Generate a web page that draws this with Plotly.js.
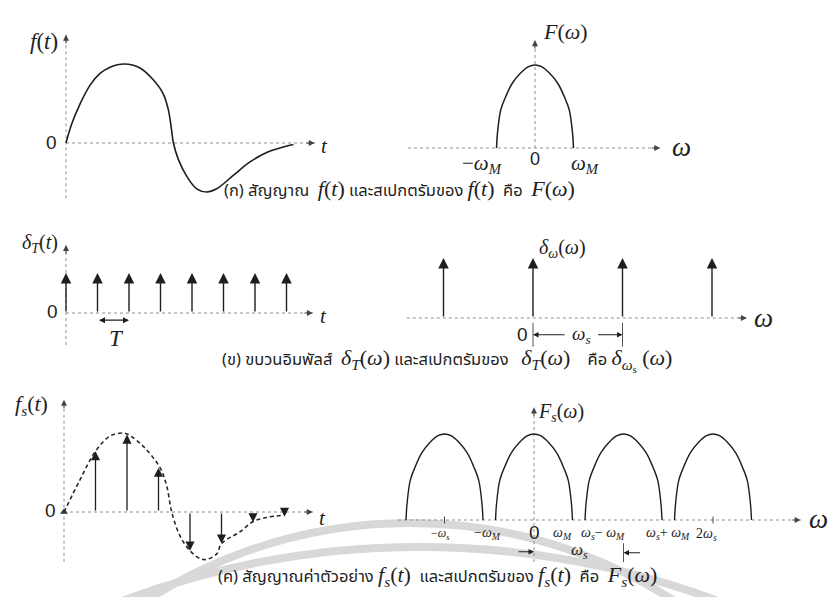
<!DOCTYPE html>
<html>
<head>
<meta charset="utf-8">
<script src="https://cdn.plot.ly/plotly-3.0.1.min.js"></script>
<style>
  html, body { margin: 0; padding: 0; background: #fff; }
  #chart { width: 834px; height: 597px; }
</style>
</head>
<body>
<div id="chart"></div>
<script>
// ---------- data ----------
// (a) continuous signal f(t); t in sampling periods T, amplitude relative to the peak
const fT = [0, 0.18, 0.44, 0.76, 1.08, 1.40, 1.85, 2.35, 2.77, 3.09, 3.25, 3.35, 3.41, 3.57, 3.83, 4.15, 4.47, 4.78, 5.31, 5.84, 6.37, 6.90, 7.22];
const fV = [0, 0.24, 0.49, 0.73, 0.88, 0.96, 1.00, 0.95, 0.80, 0.62, 0.42, 0.17, 0, -0.21, -0.42, -0.58, -0.62, -0.58, -0.41, -0.24, -0.12, -0.05, -0.02];

// band-limited spectrum F(ω): one lobe, offset in units of ωM and relative height
const lobeU = [-1, -0.975, -0.89, -0.76, -0.59, -0.38, -0.17, 0, 0.17, 0.38, 0.59, 0.76, 0.89, 0.975, 1];
const lobeH = [0, 0.18, 0.46, 0.62, 0.78, 0.90, 0.98, 1, 0.98, 0.90, 0.78, 0.62, 0.46, 0.18, 0];
const wM = 0.43;                       // ωM measured in units of ωs

// (b) impulse train δT(t) and its spectrum δωs(ω)
const trainT = [0, 1, 2, 3, 4, 5, 6, 7];
const trainH = [1, 1, 1, 1, 1, 1, 1, 1];
const combW = [-1, 0, 1, 2];
const combH = [1, 1, 1, 1];

// (c) sampled signal fs(t): envelope and sample values, plus spectral replicas
const envT = [0, 0.51, 1.00, 1.46, 1.88, 2.04, 2.52, 3.05, 3.26, 3.42, 3.68, 4.00, 4.32, 4.53, 4.85, 5.00, 5.59, 6.01, 6.43, 6.96];
const envV = [0, 0.41, 0.77, 0.96, 1.00, 0.98, 0.83, 0.56, 0.33, 0, -0.30, -0.49, -0.59, -0.60, -0.53, -0.40, -0.25, -0.12, -0.07, -0.04];
const smpT = [0, 1, 2, 3, 4, 5, 6, 7];
const smpV = [0, 0.77, 0.98, 0.56, -0.49, -0.40, -0.13, -0.06];
const repW = [-1, 0, 1, 2];
const repH = [1, 1, 1, 1];

// ---------- styling ----------
const W = 834, H = 597;
const INK = '#1e1e1e', AXIS = '#8e8e8e';
const SERIF = 'Liberation Serif, DejaVu Serif, serif';
const SANS = 'Liberation Sans, DejaVu Sans, sans-serif';
const THAI = 'Noto Sans Thai, Noto Serif Thai, Loma, Garuda, Norasi, Tlwg Typo, sans-serif';
const CAP = 16.5;     // Thai caption size
const MATH = 22;      // math inside captions

// each panel: pixel origin, pixels per unit, and pixel box of the subplot
const frames = [null,
  {ox: 66,  oy: 143, sx: 31.5, sy: 79, box: [20, 15, 345, 210]},
  {ox: 535, oy: 148, sx: 89.5, sy: 83, box: [395, 15, 700, 180]},
  {ox: 66,  oy: 313, sx: 31.5, sy: 40, box: [20, 225, 345, 350]},
  {ox: 533, oy: 318, sx: 89.5, sy: 60, box: [395, 235, 790, 350]},
  {ox: 64,  oy: 512, sx: 31.5, sy: 79, box: [15, 390, 345, 575]},
  {ox: 534, oy: 520, sx: 89.5, sy: 86, box: [390, 395, 834, 575]}
];

const layout = {
  width: W, height: H,
  margin: {l: 0, r: 0, t: 0, b: 0},
  paper_bgcolor: '#ffffff', plot_bgcolor: 'rgba(0,0,0,0)',
  showlegend: false, hovermode: false,
  annotations: [], shapes: []
};
const sfx = k => (k === 1 ? '' : String(k));
frames.forEach((f, k) => {
  if (!f) return;
  const [l, t, r, b] = f.box, s = sfx(k);
  layout['xaxis' + s] = {domain: [l / W, r / W], range: [(l - f.ox) / f.sx, (r - f.ox) / f.sx],
    visible: false, fixedrange: true, anchor: 'y' + s};
  layout['yaxis' + s] = {domain: [1 - b / H, 1 - t / H], range: [(f.oy - b) / f.sy, (f.oy - t) / f.sy],
    visible: false, fixedrange: true, anchor: 'x' + s};
});

const traces = [];
const ann = layout.annotations;
const xr = k => 'x' + sfx(k), yr = k => 'y' + sfx(k);

function line(k, xs, ys, style) {
  traces.push(Object.assign({type: 'scatter', mode: 'lines', x: xs, y: ys, xaxis: xr(k), yaxis: yr(k),
    hoverinfo: 'skip', cliponaxis: false}, style));
}
function axisLine(k, xs, ys) { line(k, xs, ys, {line: {color: AXIS, width: 1, dash: 'dot'}}); }
function head(k, x, y, ax, ay) {
  ann.push({xref: xr(k), yref: yr(k), x: x, y: y, ax: ax, ay: ay, text: '', showarrow: true,
    arrowhead: 2, arrowsize: 1.1, arrowwidth: 1.1, arrowcolor: '#444'});
}
function stem(k, x, y, x0, y0, extra) {
  ann.push(Object.assign({xref: xr(k), yref: yr(k), x: x, y: y, ax: x0, ay: y0, axref: xr(k), ayref: yr(k),
    text: '', showarrow: true, arrowhead: 2, arrowsize: 1.5, arrowwidth: 1.4, arrowcolor: INK}, extra || {}));
}
function label(text, px, py, size, family, extra) {
  ann.push(Object.assign({xref: 'paper', yref: 'paper', x: px / W, y: 1 - py / H, text: text, showarrow: false,
    xanchor: 'center', yanchor: 'middle', font: {size: size, family: family, color: INK}}, extra || {}));
}
const M = s => `<span style="font-family:Liberation Serif;font-size:${MATH}px">${s}</span>`;
const SP = '\u00a0';

// ---------- (a) f(t) ----------
axisLine(1, [0, 7.9], [0, 0]);
axisLine(1, [0, 0], [-0.70, 1.37]);
head(1, 7.9, 0, -10, 0);
head(1, 0, 1.37, 0, 10);
line(1, fT, fV, {line: {color: INK, width: 1.6, shape: 'spline', smoothing: 1}});
label('<i>f</i>(<i>t</i>)', 44, 41, 23, SERIF);
label('0', 51, 142, 19, SANS);
label('<i>t</i>', 324, 146, 21, SERIF);

// ---------- (a) F(ω) ----------
axisLine(2, [-1.42, 1.40], [0, 0]);
axisLine(2, [0, 0], [0, 1.30]);
head(2, 1.40, 0, -10, 0);
head(2, 0, 1.30, 0, 10);
line(2, lobeU.map(u => u * wM), lobeH, {line: {color: INK, width: 1.5, shape: 'spline', smoothing: 1}});
label('<i>F</i>(<i>ω</i>)', 565, 31, 22, SERIF);
label('−<i>ω</i><sub><i>M</i></sub>', 482, 164, 21, SERIF);
label('0', 535, 159, 18, SANS);
label('<i>ω</i><sub><i>M</i></sub>', 585, 164, 21, SERIF);
label('<i>ω</i>', 681, 147, 27, SERIF);

label('(ก) สัญญาณ' + SP + SP + M('<i>f</i>(<i>t</i>)') + ' และสเปกตรัมของ ' + M('<i>f</i>(<i>t</i>)') +
      SP + SP + 'คือ' + SP + SP + M('<i>F</i>(<i>ω</i>)'), 222, 190, CAP, THAI, {xanchor: 'left'});

// ---------- (b) δT(t) ----------
axisLine(3, [0, 7.84], [0, 0]);
axisLine(3, [0, 0], [-0.8, 1.7]);
head(3, 7.84, 0, -10, 0);
head(3, 0, 1.7, 0, 10);
trainT.forEach((t, i) => stem(3, t, trainH[i], t, 0));
stem(3, trainT[2], -0.18, trainT[1], -0.18, {arrowside: 'end+start', arrowsize: 1, arrowwidth: 1.2});
label('<i>δ</i><sub><i>T</i></sub>(<i>t</i>)', 40, 243, 20, SERIF);
label('0', 52, 311, 19, SANS);
label('<i>t</i>', 323, 316, 21, SERIF);
label('<i>T</i>', 117, 338, 23, SERIF);

// ---------- (b) δωs(ω) ----------
axisLine(4, [-1.41, 2.39], [0, 0]);
head(4, 2.39, 0, -10, 0);
combW.forEach((w, i) => stem(4, w, combH[i], w, 0));
line(4, [combW[1], combW[1], null, combW[2], combW[2]], [-0.08, -0.48, null, -0.08, -0.48],
  {line: {color: '#555', width: 1}});
stem(4, combW[1], -0.28, 0.37, -0.28, {arrowsize: 1, arrowwidth: 1.1});
stem(4, combW[2], -0.28, 0.71, -0.28, {arrowsize: 1, arrowwidth: 1.1});
label('<i>δ</i><sub><i>ω</i></sub>(<i>ω</i>)', 562, 249, 20, SERIF);
label('0', 522, 334, 19, SANS);
label('<i>ω</i><sub><i>s</i></sub>', 581, 335, 19, SERIF);
label('<i>ω</i>', 763, 318, 27, SERIF);

label('(ข) ขบวนอิมพัลส์' + SP + SP + M('<i>δ</i><sub><i>T</i></sub>(<i>ω</i>)') + ' และสเปกตรัมของ' + SP + SP + SP +
      M('<i>δ</i><sub><i>T</i></sub>(<i>ω</i>)') + SP + SP + SP + SP + 'คือ ' +
      M('<i>δ</i><sub><i>ω</i><sub>s</sub></sub>' + SP + '(<i>ω</i>)'),
      220, 360, CAP, THAI, {xanchor: 'left'});

// ---------- (c) fs(t) ----------
axisLine(5, [0, 7.9], [0, 0]);
axisLine(5, [0, 0], [-0.63, 1.42]);
head(5, 7.9, 0, -10, 0);
head(5, 0, 1.42, 0, 10);
line(5, envT, envV, {line: {color: '#2a2a2a', width: 1.6, dash: '4px,3px', shape: 'spline', smoothing: 1}});
smpT.forEach((t, i) => { if (smpV[i] !== 0) stem(5, t, smpV[i], t, 0, {arrowsize: 1.4, arrowwidth: 1.3}); });
traces.push({type: 'scatter', mode: 'markers', xaxis: 'x5', yaxis: 'y5', hoverinfo: 'skip', cliponaxis: false,
  x: smpT.filter((t, i) => smpV[i] === 0), y: smpV.filter(v => v === 0),
  marker: {symbol: 'triangle-up', size: 7, color: '#333'}});
label('<i>f</i><sub><i>s</i></sub>(<i>t</i>)', 31, 405, 22, SERIF);
label('0', 50, 510, 19, SANS);
label('<i>t</i>', 322, 518, 21, SERIF);

// ---------- (c) Fs(ω) ----------
axisLine(6, [-1.52, 2.98], [0, 0]);
axisLine(6, [0, 0], [-0.49, 1.31]);
head(6, 2.98, 0, -10, 0);
head(6, 0, 1.31, 0, 10);
repW.forEach((c, j) => line(6, lobeU.map(u => c + u * wM), lobeH.map(h => h * repH[j]),
  {line: {color: INK, width: 1.4, shape: 'spline', smoothing: 1}}));
line(6, [repW[0], repW[0], null, repW[3], repW[3]], [-0.04, 0.04, null, -0.04, 0.04], {line: {color: '#444', width: 1}});
line(6, [repW[2], repW[2]], [-0.27, -0.49], {line: {color: '#555', width: 1}});
stem(6, repW[1], -0.37, -0.19, -0.37, {arrowsize: 1, arrowwidth: 1.1});
stem(6, repW[2], -0.38, 1.2, -0.38, {arrowsize: 1, arrowwidth: 1.1});
label('<i>F</i><sub><i>s</i></sub>(<i>ω</i>)', 561, 412, 20, SERIF);
label('−<i>ω</i><sub><i>s</i></sub>', 440, 534, 12, SERIF);
label('−<i>ω</i><sub><i>M</i></sub>', 487, 533, 14, SERIF);
label('0', 534, 532, 19, SANS);
label('<i>ω</i><sub><i>M</i></sub>', 562, 533, 14, SERIF);
label('<i>ω</i><sub><i>s</i></sub>− <i>ω</i><sub><i>M</i></sub>', 603, 533, 14, SERIF);
label('<i>ω</i><sub><i>s</i></sub>+ <i>ω</i><sub><i>M</i></sub>', 668, 533, 14, SERIF);
label('2<i>ω</i><sub><i>s</i></sub>', 706, 534, 14, SERIF);
label('<i>ω</i><sub><i>s</i></sub>', 579, 551, 17, SERIF);
label('<i>ω</i>', 818, 519, 27, SERIF);

label('(ค) สัญญาณค่าตัวอย่าง' + SP + M('<i>f</i><sub><i>s</i></sub>(<i>t</i>)') + SP + SP + 'และสเปกตรัมของ ' +
      M('<i>f</i><sub><i>s</i></sub>(<i>t</i>)') + SP + SP + 'คือ' + SP + SP + M('<i>F</i><sub><i>s</i></sub>(<i>ω</i>)'),
      216, 576, CAP, THAI, {xanchor: 'left'});

// ---------- faint watermark arcs along the bottom ----------
function arcPath(cx, cy, R, a0, a1) {
  const P = a => [cx + R * Math.sin(a), cy - R * Math.cos(a)];
  const k = 4 / 3 * Math.tan((a1 - a0) / 4) * R;
  const p0 = P(a0), p1 = P(a1);
  const c1 = [p0[0] + k * Math.cos(a0), p0[1] + k * Math.sin(a0)];
  const c2 = [p1[0] - k * Math.cos(a1), p1[1] - k * Math.sin(a1)];
  const q = p => `${(p[0] / W).toFixed(5)},${(1 - p[1] / H).toFixed(5)}`;
  return `M${q(p0)} C${q(c1)} ${q(c2)} ${q(p1)}`;
}
const rad = d => d * Math.PI / 180;
layout.shapes.push(
  {type: 'path', xref: 'paper', yref: 'paper', layer: 'below', path: arcPath(410, 1010, 487, rad(-40), rad(40)),
   line: {color: '#d8d8d8', width: 8}},
  {type: 'path', xref: 'paper', yref: 'paper', layer: 'below', path: arcPath(420, 1397, 850, rad(-22), rad(22)),
   line: {color: '#d8d8d8', width: 8}}
);

Plotly.newPlot('chart', traces, layout, {staticPlot: true, displayModeBar: false});
</script>
</body>
</html>
